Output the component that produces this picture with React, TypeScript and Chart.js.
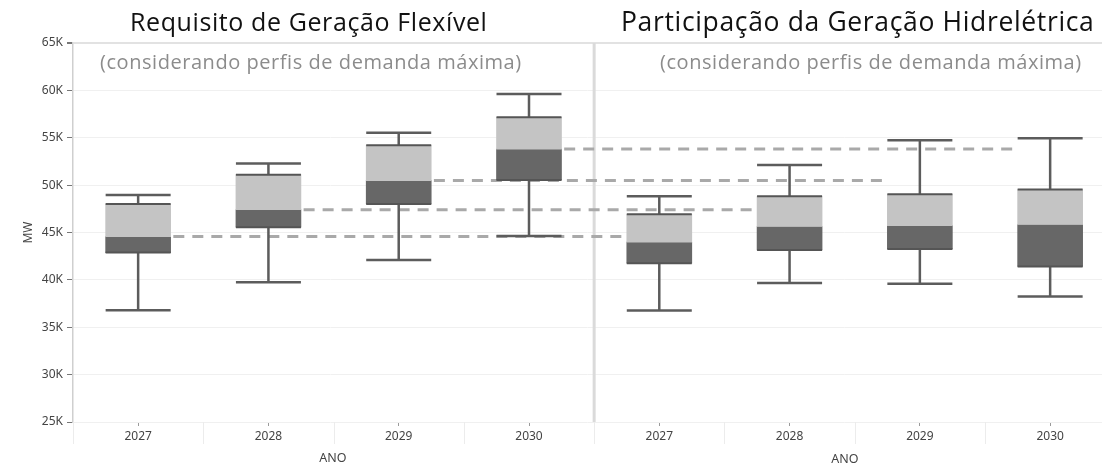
import { useEffect, useRef } from 'react';
import { Chart, registerables } from 'chart.js';

Chart.register(...registerables);

// ---- data (MW) ----
const years = ['2027', '2028', '2029', '2030'];

// Requisito de Geração Flexível
const flexMin = [36800, 39760, 42100, 44640];
const flexQ1 = [42880, 45560, 48020, 50550];
const flexMedian = [44570, 47400, 50480, 53800];
const flexQ3 = [48000, 51100, 54200, 57160];
const flexMax = [48950, 52270, 55540, 59620];

// Participação da Geração Hidrelétrica
const hydroMin = [36760, 39680, 39580, 38240];
const hydroQ1 = [41760, 43160, 43270, 41410];
const hydroMedian = [43980, 45630, 45730, 45840];
const hydroQ3 = [46930, 48830, 49040, 49530];
const hydroMax = [48830, 52130, 54730, 54940];

const yTicks = [25000, 30000, 35000, 40000, 45000, 50000, 55000, 60000, 65000];

// combined slots: left panel 0..3, right panel 4..7
const allYears = [...years, ...years];
const mins = [...flexMin, ...hydroMin];
const q1s = [...flexQ1, ...hydroQ1];
const medians = [...flexMedian, ...hydroMedian];
const q3s = [...flexQ3, ...hydroQ3];
const maxs = [...flexMax, ...hydroMax];
const slots = allYears.map((_, i) => i);

const BOX_HALF = 0.27; // gap offset for dashed reference lines (in slot units)

const panelPlugin = {
  id: 'panels',
  beforeDatasetsDraw(chart: any) {
    const { ctx, chartArea, scales } = chart;
    const x = scales.x;
    ctx.save();
    ctx.strokeStyle = '#ececec';
    ctx.lineWidth = 1;
    for (let i = -1; i < slots.length - 1; i++) {
      const px = Math.round(x.getPixelForValue(i + 0.5)) + 0.5;
      ctx.beginPath();
      ctx.moveTo(px, chartArea.bottom);
      ctx.lineTo(px, chartArea.bottom + 22);
      ctx.stroke();
    }
    const dx = x.getPixelForValue((years.length - 1) + 0.5);
    ctx.strokeStyle = '#dadada';
    ctx.lineWidth = 3;
    ctx.beginPath();
    ctx.moveTo(dx, chartArea.top);
    ctx.lineTo(dx, chartArea.bottom);
    ctx.stroke();
    ctx.restore();
  },
};

export default function App() {
  const canvasRef = useRef<HTMLCanvasElement | null>(null);

  useEffect(() => {
    document.body.style.margin = '0';
    const canvas = canvasRef.current;
    if (!canvas) return;
    Chart.defaults.font.family = "'Noto Sans', sans-serif";

    const lineColor = '#5c5c5c';

    const dashed = years.map((_, k) => ({
      type: 'line' as const,
      data: [
        { x: k + BOX_HALF, y: flexMedian[k] },
        { x: k + years.length - BOX_HALF, y: flexMedian[k] },
      ],
      borderColor: '#a9a9a9',
      borderWidth: 3,
      borderDash: [11, 8],
      pointRadius: 0,
      order: 5,
    }));

    const chart = new Chart(canvas, {
      type: 'bar',
      data: {
        datasets: [
          {
            type: 'scatter',
            data: slots.flatMap((i) => [
              { x: i, y: q1s[i] },
              { x: i, y: q3s[i] },
            ]),
            pointStyle: 'line',
            pointRadius: 32.5,
            pointBorderWidth: 2,
            pointBorderColor: '#555555',
            pointBackgroundColor: '#555555',
            rotation: 0,
            order: 0,
          } as any,
          {
            type: 'scatter',
            data: slots.flatMap((i) => [
              { x: i, y: mins[i] },
              { x: i, y: maxs[i] },
            ]),
            pointStyle: 'line',
            pointRadius: 32.5,
            pointBorderWidth: 2.5,
            pointBorderColor: lineColor,
            pointBackgroundColor: lineColor,
            rotation: 0,
            order: 1,
          } as any,
          {
            type: 'line',
            data: slots.flatMap((i) => [
              { x: i, y: q3s[i] },
              { x: i, y: maxs[i] },
              { x: i, y: null },
              { x: i, y: q1s[i] },
              { x: i, y: mins[i] },
              { x: i, y: null },
            ]),
            borderColor: lineColor,
            borderWidth: 2.5,
            pointRadius: 0,
            spanGaps: false,
            order: 2,
          } as any,
          {
            type: 'bar',
            data: slots.map((i) => ({ x: i, y: [medians[i], q3s[i]] })),
            backgroundColor: '#c4c4c4',
            borderWidth: 0,
            barThickness: 65,
            grouped: false,
            order: 3,
          } as any,
          {
            type: 'bar',
            data: slots.map((i) => ({ x: i, y: [q1s[i], medians[i]] })),
            backgroundColor: '#676767',
            borderWidth: 0,
            barThickness: 65,
            grouped: false,
            order: 4,
          } as any,
          ...(dashed as any[]),
        ],
      },
      options: {
        responsive: false,
        animation: false,
        events: [],
        layout: { autoPadding: false, padding: { top: 43, left: 0, right: 0, bottom: 0 } },
        plugins: {
          legend: { display: false },
          tooltip: { enabled: false },
          title: { display: false },
        },
        scales: {
          x: {
            type: 'linear',
            min: -0.5,
            max: 7.398,
            offset: false,
            grid: {
              offset: false,
              drawOnChartArea: false,
              drawTicks: true,
              tickLength: 4,
              color: '#9a9a9a',
              tickColor: '#9a9a9a',
            },
            border: { display: false },
            ticks: {
              autoSkip: false,
              maxRotation: 0,
              padding: 3,
              color: '#444444',
              font: { size: 12 },
              callback: (_v: any, i: number) => allYears[i],
            },
            afterBuildTicks: (s: any) => {
              s.ticks = slots.map((v) => ({ value: v }));
            },
            afterFit: (s: any) => {
              s.height = 43;
            },
          } as any,
          y: {
            type: 'linear',
            min: yTicks[0],
            max: yTicks[yTicks.length - 1],
            afterBuildTicks: (s: any) => {
              s.ticks = yTicks.map((v) => ({ value: v }));
            },
            ticks: {
              padding: 4,
              color: '#444444',
              font: { size: 12 },
              callback: (v: any) => `${Number(v) / 1000}K`,
            },
            grid: {
              color: (c: any) => (c.tick && c.tick.value === yTicks[yTicks.length - 1] ? '#e2e2e2' : '#f0f0f0'),
              lineWidth: (c: any) => (c.tick && c.tick.value === yTicks[yTicks.length - 1] ? 2 : 1),
              tickLength: 6,
              tickColor: '#777777',
            },
            border: { color: '#cfcfcf', width: 1.5 },
            title: {
              display: true,
              text: 'MW',
              color: '#444444',
              font: { size: 12 },
              padding: { top: 21, bottom: 0 },
            },
            afterFit: (s: any) => {
              s.width = 73;
            },
          } as any,
        },
      },
      plugins: [panelPlugin],
    } as any);

    return () => chart.destroy();
  }, []);

  const titleStyle: any = {
    position: 'absolute',
    whiteSpace: 'nowrap',
    fontFamily: "'Open Sans', 'Noto Sans', sans-serif",
    lineHeight: '30px',
    color: '#111111',
  };
  const subStyle: any = {
    position: 'absolute',
    whiteSpace: 'nowrap',
    fontFamily: "'Open Sans', 'Noto Sans', sans-serif",
    fontSize: 20,
    letterSpacing: '0.55px',
    lineHeight: '24px',
    color: '#8c8c8c',
  };
  const anoStyle: any = {
    position: 'absolute',
    width: 100,
    textAlign: 'center',
    fontFamily: "'Noto Sans', sans-serif",
    fontSize: 12.5,
    lineHeight: '16px',
    color: '#444444',
  };

  return (
    <div style={{ position: 'relative', width: 1102, height: 465, background: '#ffffff', overflow: 'hidden' }}>
      <canvas ref={canvasRef} width={1102} height={465} style={{ display: 'block' }} />
      <div style={{ ...titleStyle, left: 130, top: 6, fontSize: 25, letterSpacing: '0.6px' }}>Requisito de Geração Flexível</div>
      <div style={{ ...titleStyle, left: 621, top: 6, fontSize: 26.5, letterSpacing: '0.65px' }}>Participação da Geração Hidrelétrica</div>
      <div style={{ ...subStyle, left: 100, top: 50 }}>(considerando perfis de demanda máxima)</div>
      <div style={{ ...subStyle, left: 660, top: 50 }}>(considerando perfis de demanda máxima)</div>
      <div style={{ ...anoStyle, left: 283, top: 450 }}>ANO</div>
      <div style={{ ...anoStyle, left: 795, top: 451 }}>ANO</div>
    </div>
  );
}
